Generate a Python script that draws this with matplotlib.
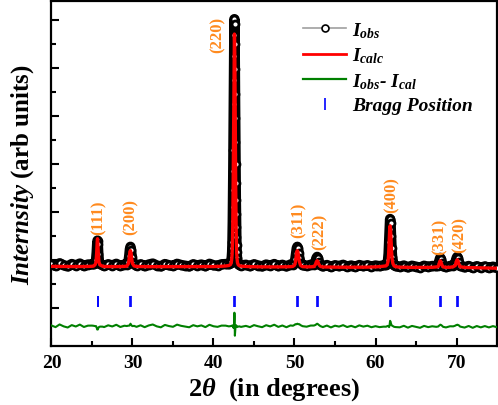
import numpy as np
import matplotlib
matplotlib.use("Agg")
import matplotlib.pyplot as plt
from matplotlib.lines import Line2D

plt.rcParams['font.family'] = ['Liberation Serif', 'DejaVu Serif']
plt.rcParams['font.weight'] = 'bold'
plt.rcParams['mathtext.fontset'] = 'custom'
plt.rcParams['mathtext.rm'] = 'Liberation Serif:bold'
plt.rcParams['mathtext.it'] = 'Liberation Serif:italic:bold'
plt.rcParams['mathtext.bf'] = 'Liberation Serif:bold'

# 2theta grid (deg), observed and calculated intensity
two_theta = [
    20.0, 20.5, 21.0, 21.5, 22.0, 22.5, 23.0, 23.5, 24.0, 24.5, 25.0,
    25.2, 25.4, 25.5, 25.58, 25.64, 25.68, 25.72, 25.78, 25.86, 26.0, 26.3,
    26.5, 27.0, 27.5, 28.0, 28.5, 29.0,
    29.3, 29.5, 29.6, 29.68, 29.75, 29.82, 29.9, 30.0, 30.2,
    30.5, 31.0, 31.5, 32.0, 32.5, 33.0, 33.5, 34.0, 34.5, 35.0, 35.5, 36.0,
    36.5, 37.0, 37.5, 38.0, 38.5, 39.0, 39.5, 40.0, 40.5, 41.0, 41.5,
    41.9, 42.1, 42.2, 42.26, 42.30, 42.32, 42.34, 42.36, 42.38, 42.40,
    42.42, 42.44, 42.46, 42.48, 42.50, 42.52, 42.54, 42.56, 42.58, 42.60,
    42.62, 42.64, 42.66, 42.68, 42.70, 42.72, 42.74, 42.76, 42.78, 42.80,
    42.82, 42.84, 42.86, 42.90, 42.96, 43.05, 43.2, 43.4,
    44.0, 44.5, 45.0, 45.5, 46.0, 46.5, 47.0, 47.5, 48.0, 48.5, 49.0, 49.5,
    49.8, 50.0, 50.1, 50.2, 50.28, 50.35, 50.42, 50.5, 50.6, 50.75, 51.0,
    51.5, 52.0,
    52.4, 52.6, 52.7, 52.8, 52.9, 53.0, 53.2,
    53.5, 54.0, 54.5, 55.0, 55.5, 56.0, 56.5, 57.0, 57.5, 58.0, 58.5, 59.0,
    59.5, 60.0, 60.5, 61.0,
    61.3, 61.45, 61.55, 61.62, 61.68, 61.74, 61.8, 61.86, 61.92, 61.98,
    62.05, 62.15, 62.3, 62.5,
    63.0, 63.5, 64.0, 64.5, 65.0, 65.5, 66.0, 66.5, 67.0, 67.5,
    67.75, 67.85, 67.95, 68.0, 68.08, 68.2, 68.35,
    68.7, 69.2, 69.6,
    69.85, 69.95, 70.05, 70.1, 70.18, 70.3, 70.45,
    71.0, 71.5, 72.0, 72.5, 73.0, 73.5, 74.0, 74.5, 75.0,
]
i_obs = [
    905, 870, 925, 885, 860, 910, 880, 920, 870, 900, 905,
    905, 930, 990, 1150, 1330, 1400, 1320, 1120, 960, 910, 885,
    870, 905, 880, 915, 870, 900,
    900, 960, 1080, 1220, 1270, 1210, 1060, 950, 905,
    875, 905, 865, 900, 920, 880, 860, 910, 885, 870, 915, 890,
    875, 860, 905, 880, 900, 865, 915, 885, 875, 905, 910,
    905, 930, 980, 1060, 1160, 1250, 1380, 1560, 1800, 2100,
    2450, 2850, 3300, 3750, 4250, 4750, 5250, 5700, 6020, 5920,
    5500, 4980, 4450, 3950, 3450, 3000, 2600, 2250, 1950, 1680,
    1470, 1300, 1170, 1040, 960, 915, 900, 880,
    895, 865, 905, 880, 860, 900, 875, 910, 865, 895, 860, 900,
    900, 940, 1010, 1140, 1240, 1270, 1240, 1150, 1030, 930, 885,
    870, 895,
    900, 960, 1030, 1060, 1030, 960, 890,
    860, 890, 850, 885, 865, 895, 855, 880, 850, 890, 865, 885,
    855, 880, 865, 885,
    890, 930, 1000, 1130, 1370, 1650, 1850, 1760, 1500, 1240,
    1060, 950, 885, 865,
    850, 880, 840, 875, 855, 835, 875, 850, 870, 865,
    880, 960, 1020, 1040, 1010, 930, 865,
    845, 870, 880,
    920, 1000, 1050, 1060, 1030, 950, 875,
    840, 870, 830, 865, 835, 860, 830, 855, 830,
]
i_calc = [
    862, 861, 860, 860, 859, 859, 858, 858, 858, 860, 864,
    868, 900, 960, 1150, 1370, 1440, 1360, 1130, 950, 890, 866,
    860, 858, 857, 857, 858, 862,
    868, 920, 1040, 1170, 1190, 1150, 1020, 920, 870,
    860, 858, 857, 856, 856, 855, 855, 855, 854, 854, 854, 854,
    854, 854, 855, 855, 855, 856, 857, 858, 860, 864, 870,
    880, 900, 945, 1025, 1120, 1220, 1350, 1520, 1760, 2060,
    2420, 2830, 3280, 3760, 4250, 4740, 5180, 5530, 5710, 5680,
    5460, 5150, 4560, 4000, 3470, 2990, 2570, 2210, 1900, 1640,
    1440, 1270, 1150, 1030, 940, 895, 875, 866,
    860, 856, 854, 853, 852, 851, 851, 851, 851, 852, 853, 856,
    862, 885, 940, 1070, 1170, 1190, 1165, 1080, 960, 880, 856,
    852, 853,
    858, 905, 960, 980, 960, 905, 860,
    850, 848, 847, 846, 845, 845, 844, 844, 844, 844, 845, 846,
    848, 851, 856, 866,
    872, 900, 965, 1110, 1360, 1600, 1710, 1640, 1420, 1190,
    1020, 920, 870, 855,
    845, 843, 842, 841, 840, 840, 840, 841, 843, 850,
    858, 920, 970, 980, 955, 890, 850,
    842, 843, 855,
    880, 950, 995, 1000, 975, 905, 855,
    840, 837, 835, 833, 831, 829, 827, 825, 823,
]

# Bragg reflections (K-alpha1 and K-alpha2 positions)
bragg_ka1 = [25.68, 29.75, 42.55, 50.33, 52.75, 61.80, 67.99, 70.09]
bragg_ka2 = [25.72, 29.80, 42.62, 50.42, 52.85, 61.90, 68.11, 70.21]

hkl_labels = ['(111)', '(200)', '(220)', '(311)', '(222)', '(400)', '(331)', '(420)']
label_x = [25.86, 29.81, 40.56, 50.56, 53.09, 61.98, 67.90, 70.43]
label_y = [1540, 1540, 5330, 1480, 1230, 2000, 1125, 1165]

diff_offset = -415  # vertical shift of the difference curve
bragg_lo, bragg_hi = 20, 250

x = np.array(two_theta)
yo = np.array(i_obs)
yc = np.array(i_calc)
assert len(x) == len(yo) == len(yc)

fig = plt.figure(figsize=(4.98, 4.06), dpi=100)
ax = fig.add_axes([0.1034, 0.1453, 0.8946, 0.8498])

ax.plot(x, yo, color='black', lw=7.5, zorder=2, solid_capstyle='butt')
ax.plot(x, yo, 'o', ms=5, mfc='white', mec='black', mew=2.0, zorder=3)
ax.plot(x, yc, color='red', lw=2.4, zorder=4)
ax.plot(x, yo - yc + diff_offset, color='#008000', lw=1.5, zorder=4)
ax.vlines(bragg_ka1 + bragg_ka2, bragg_lo, bragg_hi, color='#0000ff', lw=1.2, zorder=4)

for lab, lx, ly in zip(hkl_labels, label_x, label_y):
    ax.text(lx, ly, lab, rotation=90, ha='center', va='bottom',
            color='#ff8a1e', fontsize=12, fontweight='bold')

ax.set_xlim(20, 75)
ax.set_ylim(-800, 6400)
ax.set_xticks([20, 30, 40, 50, 60, 70])
ax.set_xticks([25, 35, 45, 55, 65], minor=True)
ax.set_yticks(np.arange(0, 6001, 1000))
ax.set_yticks(np.arange(500, 6001, 1000), minor=True)
ax.set_yticklabels([])
ax.tick_params(which='both', direction='in', width=1.5, labelsize=14, pad=6)
ax.tick_params(which='major', length=6)
ax.tick_params(which='minor', length=3.5)
for sp in ax.spines.values():
    sp.set_linewidth(1.6)

ax.set_xlabel(r'$2\theta$  (in degrees)', fontsize=19, fontweight='bold', labelpad=3)
ax.set_ylabel(r'$\mathit{Internsity}$ (arb units)', fontsize=18, fontweight='bold', labelpad=5)

handles = [
    Line2D([], [], color='#a0a0a0', lw=1.2, marker='o', ms=5, mfc='white', mec='black', mew=1.2),
    Line2D([], [], color='red', lw=2.0),
    Line2D([], [], color='#008000', lw=1.6),
    Line2D([], [], color='#0000ff', ls='none', marker='|', ms=9, mew=1.2),
]
labels = [r'$I_{obs}$', r'$I_{calc}$', r'$I_{obs}$- $I_{cal}$', 'Bragg Position']
ax.legend(handles, labels, loc='upper right', bbox_to_anchor=(0.985, 0.995), frameon=False,
          handlelength=2.2, labelspacing=0.3, handletextpad=0.3,
          prop=dict(family='Liberation Serif', weight='bold', style='italic', size=14))

fig.savefig('out.png', dpi=100)
